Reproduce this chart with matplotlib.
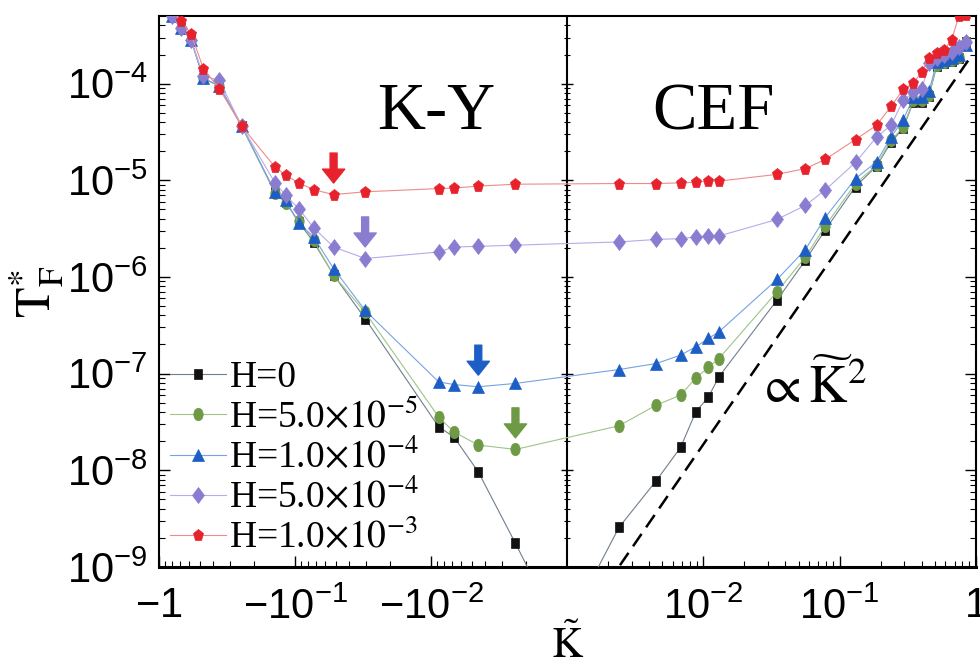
import numpy as np
import matplotlib.pyplot as plt
from matplotlib.markers import MarkerStyle
from matplotlib.transforms import Affine2D

plt.rcParams['font.family'] = ['Liberation Serif', 'DejaVu Serif']
plt.rcParams['mathtext.fontset'] = 'custom'
plt.rcParams['mathtext.rm'] = 'Liberation Sans'
plt.rcParams['mathtext.it'] = 'Liberation Sans:italic'
plt.rcParams['mathtext.bf'] = 'Liberation Sans:bold'
plt.rcParams['mathtext.sf'] = 'Liberation Sans'

# K~ values (negative side = K-Y region, positive side = CEF region)
K_neg = [-0.805, -0.69, -0.58, -0.47, -0.36, -0.245, -0.14, -0.117, -0.094, -0.073,
         -0.052, -0.0305, -0.0088, -0.0068, -0.0045, -0.0024]
K_pos = [0.0024, 0.0045, 0.0068, 0.0088, 0.0109, 0.013, 0.0347, 0.0562, 0.0783, 0.131,
         0.187, 0.239, 0.293, 0.349, 0.402, 0.454, 0.517, 0.585, 0.666, 0.753, 0.848]
K_h0 = K_neg + [-0.0015, 0.0015] + K_pos
K_h = K_neg + K_pos

# T*_F for each field
T_h0 = [5.0e-4, 3.79e-4, 2.85e-4, 1.13e-4, 9.5e-5, 3.6e-5, 7.5e-6, 6.0e-6, 3.7e-6, 2.3e-6,
        1.05e-6, 3.7e-7, 2.81e-8, 2.21e-8, 9.6e-9, 1.75e-9,
        4.7e-10, 7.2e-10,
        2.56e-9, 7.76e-9, 1.72e-8, 4.02e-8, 5.74e-8, 9.25e-8, 5.74e-7, 1.49e-6, 3.04e-6,
        8.6e-6, 1.4e-5, 2.47e-5, 3.45e-5, 6.5e-5, 6.5e-5, 7.5e-5, 1.52e-4, 1.62e-4,
        1.70e-4, 1.82e-4, 2.69e-4]
T_h5e5 = [5.0e-4, 3.79e-4, 2.85e-4, 1.13e-4, 9.5e-5, 3.6e-5, 7.3e-6, 5.8e-6, 3.8e-6, 2.4e-6,
          1.04e-6, 4.3e-7, 3.56e-8, 2.49e-8, 1.82e-8, 1.64e-8,
          2.88e-8, 4.71e-8, 5.98e-8, 9.0e-8, 1.16e-7, 1.43e-7, 7.0e-7, 1.61e-6, 3.34e-6,
          9.25e-6, 1.43e-5, 2.6e-5, 3.53e-5, 6.7e-5, 6.7e-5, 7.7e-5, 1.55e-4, 1.66e-4,
          1.74e-4, 1.87e-4, 2.67e-4]
T_h1e4 = [5.0e-4, 3.79e-4, 2.85e-4, 1.13e-4, 9.5e-5, 3.6e-5, 7.57e-6, 6.2e-6, 3.61e-6, 2.6e-6,
          1.22e-6, 4.5e-7, 8.2e-8, 7.7e-8, 7.3e-8, 7.9e-8,
          1.10e-7, 1.27e-7, 1.55e-7, 1.89e-7, 2.31e-7, 2.70e-7, 9.4e-7, 1.92e-6, 4.1e-6,
          1.04e-5, 1.55e-5, 2.8e-5, 4.2e-5, 7.2e-5, 7.2e-5, 8.3e-5, 1.66e-4, 1.74e-4,
          1.82e-4, 1.96e-4, 2.49e-4]
T_h5e4 = [5.0e-4, 3.79e-4, 2.85e-4, 1.2e-4, 1.08e-4, 3.6e-5, 9.4e-6, 7.0e-6, 5.1e-6, 3.24e-6,
          2.04e-6, 1.55e-6, 1.81e-6, 2.04e-6, 2.07e-6, 2.13e-6,
          2.30e-6, 2.44e-6, 2.49e-6, 2.59e-6, 2.65e-6, 2.65e-6, 3.93e-6, 5.5e-6, 7.9e-6,
          1.53e-5, 2.8e-5, 3.7e-5, 6.7e-5, 8.1e-5, 8.7e-5, 1.62e-4, 1.82e-4, 1.96e-4,
          2.1e-4, 2.37e-4, 2.67e-4]
T_h1e3 = [6.0e-4, 4.44e-4, 3.29e-4, 1.43e-4, 8.9e-5, 3.6e-5, 1.37e-5, 1.13e-5, 9.4e-6, 8.0e-6,
          7.1e-6, 7.6e-6, 8.2e-6, 8.3e-6, 8.7e-6, 9.1e-6,
          9.25e-6, 9.25e-6, 9.4e-6, 9.5e-6, 9.8e-6, 9.8e-6, 1.15e-5, 1.32e-5, 1.64e-5,
          2.64e-5, 3.7e-5, 5.8e-5, 8.7e-5, 1.01e-4, 1.32e-4, 1.86e-4, 2.07e-4, 2.21e-4,
          2.85e-4, 5.0e-4, 5.1e-4]

labels = ['H=0', r'H=5.0$\times10^{-5}$', r'H=1.0$\times10^{-4}$',
          r'H=5.0$\times10^{-4}$', r'H=1.0$\times10^{-3}$']

# minimum positions marked by arrows (red, purple, blue, green)
arrow_K = [-0.052, -0.0305, -0.0045, -0.0024]

# guide line ~K^2
guide_K = [0.00244, 0.892]
guide_T = [1.04e-9, 1.78e-4]

# ---- styles
mark_col = ['#111111', '#6e9a46', '#1c5ec6', '#8a7cd0', '#e8222c']
line_col = ['#6f7f90', '#9fc487', '#76a3e3', '#b5acea', '#f08a8a']
markers = [MarkerStyle('s', transform=Affine2D().scale(0.8, 1.0)),
           MarkerStyle('o', transform=Affine2D().scale(0.75, 1.0)),
           MarkerStyle('^'),
           MarkerStyle('D', transform=Affine2D().scale(0.72, 1.0)),
           MarkerStyle('p', transform=Affine2D().scale(0.9, 1.0))]
msizes = [7.6, 9.0, 8.0, 8.0, 9.2]

fig = plt.figure(figsize=(9.8, 6.72), dpi=100)
ax = fig.add_axes([0.162, 0.1565, 0.8336, 0.8196])
ax.set_xscale('symlog', linthresh=1e-3, linscale=1e-6)
ax.set_yscale('log')

xs = [K_h0, K_h, K_h, K_h, K_h]
ys = [T_h0, T_h5e5, T_h1e4, T_h5e4, T_h1e3]
for i in range(5):
    ax.plot(xs[i], ys[i], color=line_col[i], lw=0.8, marker=markers[i], ms=msizes[i],
            mfc=mark_col[i], mec=mark_col[i], mew=0.5, label=labels[i], zorder=3 + i)

ax.plot(guide_K, guide_T, color='k', lw=1.8, dashes=(6, 3.2), zorder=2)

# arrows
arrow_series = [4, 3, 2, 1]
for k, si in zip(arrow_K, arrow_series):
    t = ys[si][xs[si].index(k)]
    ax.annotate('', xy=(k, t * 10 ** 0.12), xytext=(k, t * 10 ** 0.43),
                arrowprops=dict(arrowstyle='simple,head_length=0.5,head_width=0.8,tail_width=0.25',
                                color=mark_col[si], shrinkA=0, shrinkB=0, mutation_scale=20),
                zorder=10)

ax.set_xlim(-1, 1)
ax.set_ylim(1e-9, 5e-4)

# x ticks
ax.set_xticks([-1, -0.1, -0.01, 0.01, 0.1, 1],
              labels=[r'$-1$', r'$-10^{-1}$', r'$-10^{-2}$', r'$10^{-2}$', r'$10^{-1}$', r'$1$'])
xminor = [s * m * d for s in (-1, 1) for d in (1e-3, 1e-2, 1e-1) for m in range(2, 10)]
ax.set_xticks(xminor, minor=True)

# y ticks
ymajor = [1e-9, 1e-8, 1e-7, 1e-6, 1e-5, 1e-4]
ax.set_yticks(ymajor, labels=[r'$10^{-9}$', r'$10^{-8}$', r'$10^{-7}$', r'$10^{-6}$',
                              r'$10^{-5}$', r'$10^{-4}$'])
yminor = [m * d for d in ymajor for m in range(2, 10) if m * d < 5e-4]
ax.set_yticks(yminor, minor=True)
ax.set_yticklabels([], minor=True)
ax.set_xticklabels([], minor=True)

ax.tick_params(which='both', direction='in', top=False, right=True, labelsize=30)
ax.tick_params(which='major', length=8, width=1.0)
ax.tick_params(which='minor', length=4, width=0.8)
ax.tick_params(axis='y', pad=8)
ax.tick_params(axis='x', pad=15)
for sp in ax.spines.values():
    sp.set_linewidth(1.5)
ax.spines['bottom'].set_linewidth(2.2)

# middle divider with ticks on both sides
ax.axvline(0, color='k', lw=1.5, zorder=2)
ax.plot(np.zeros(len(ymajor)), ymajor, ls='none', marker='_', ms=8, mew=1.0, color='k', zorder=2)
ax.plot(np.zeros(len(yminor)), yminor, ls='none', marker='_', ms=5, mew=0.8, color='k', zorder=2)

ax.set_xlabel(r'$\tilde{\mathrm{K}}$', fontsize=31, math_fontfamily='stix', labelpad=-3)
ax.set_ylabel(r'$\mathrm{T}^{*}_{\mathrm{F}}$', fontsize=36, math_fontfamily='stix')
ax.yaxis.set_label_coords(-0.113, 0.5)

ax.text(0.340, 0.824, 'K-Y', transform=ax.transAxes, fontsize=48, ha='center', va='center')
ax.text(0.6785, 0.824, 'CEF', transform=ax.transAxes, fontsize=48, ha='center', va='center')
ax.text(0.80, 0.325, r'$\propto\widetilde{\mathrm{K}}^{2}$', transform=ax.transAxes, fontsize=38,
        ha='center', va='center', math_fontfamily='stix')

leg = ax.legend(loc='upper left', bbox_to_anchor=(0.014, 0.375), fontsize=27, frameon=False,
                handlelength=1.5, handletextpad=0.08, labelspacing=0.07, borderpad=0,
                borderaxespad=0, numpoints=1)
for t in leg.get_texts():
    t.set_math_fontfamily('stix')

fig.savefig('out.png', dpi=100)
